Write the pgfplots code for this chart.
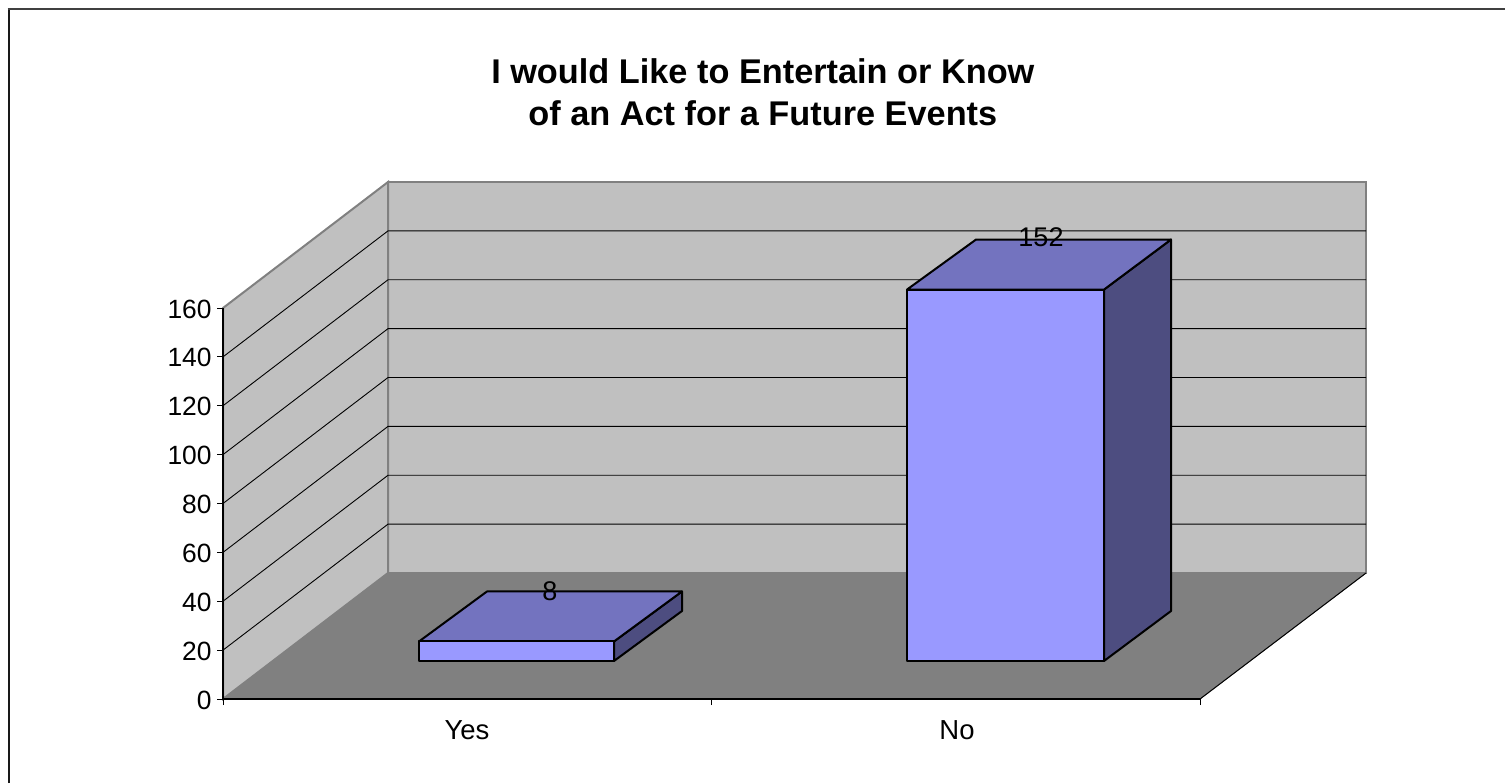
\documentclass[border=0pt]{standalone}
\usepackage{pgfplots}
\pgfplotsset{compat=1.18}
\usepackage{fontspec}
\setmainfont{Liberation Sans}
\definecolor{wall}{HTML}{C0C0C0}
\definecolor{floorc}{HTML}{808080}
\definecolor{barfront}{HTML}{9999FF}
\definecolor{bartop}{HTML}{7373BF}
\definecolor{barside}{HTML}{4D4D80}
\begin{document}
\begin{tikzpicture}
\path[use as bounding box] (0,0) rectangle (752.5pt,391.5pt);
\draw[line width=1pt,black!90] (4.25pt,0pt) -- (4.25pt,387.2pt);
\draw[line width=1.2pt,black!75] (3.75pt,387pt) -- (752.5pt,387pt);
\begin{axis}[
  at={(111.5pt,42pt)},anchor=south west,
  scale only axis,width=488.5pt,height=195.5pt,
  xmin=223,xmax=1200,ymin=0,ymax=160,
  clip=false,axis on top,
  axis lines*=left,axis line style={-,black,line width=0.6pt},
  tick align=outside,
  ytick={0,20,...,160},
  xtick={223,711,1200},xticklabels={},
  extra x ticks={467,957},
  extra x tick labels={Yes,No},
  extra x tick style={major tick length=0pt},
  major tick length=3pt,
  tick style={black,line width=0.5pt},
  xticklabel style={font=\fontsize{13.75}{15}\selectfont,yshift=-7.5pt},
  /pgf/number format/assume math mode=true,
  yticklabel style={font=\fontsize{13.2}{15}\selectfont,inner sep=0pt,xshift=-2.5pt,yshift=-0.5pt},
  title={I would Like to Entertain or Know\\of an Act for a Future Events},
  title style={at={(0.5525,1.521)},anchor=center,align=center,
    font=\fontsize{17.15}{21}\selectfont\bfseries},
  nodes near coords style={font=\fontsize{13.5}{15}\selectfont,anchor=center,inner sep=0pt},
]
% walls and floor
\addplot[fill=wall,draw=floorc,line width=1pt,mark=none] coordinates {(388,51.55)(1366,51.55)(1366,211.55)(388,211.55)} -- cycle;
\addplot[fill=wall,draw=floorc,line width=1pt,mark=none] coordinates {(223,0)(388,51.55)(388,211.55)(223,160)} -- cycle;
\addplot[fill=floorc,draw=floorc,line width=0.4pt,mark=none] coordinates {(223,0)(1200,0)(1366,51.55)(388,51.55)} -- cycle;
\addplot[black,line width=0.5pt,mark=none] coordinates {(1200,0)(1366,51.55)};
% gridlines on the side and back wall
\addplot[black,line width=0.45pt,mark=none] coordinates {(223,20)(388,71.55)(1366,71.55)};
\addplot[black,line width=0.45pt,mark=none] coordinates {(223,40)(388,91.55)(1366,91.55)};
\addplot[black,line width=0.45pt,mark=none] coordinates {(223,60)(388,111.55)(1366,111.55)};
\addplot[black,line width=0.45pt,mark=none] coordinates {(223,80)(388,131.55)(1366,131.55)};
\addplot[black,line width=0.45pt,mark=none] coordinates {(223,100)(388,151.55)(1366,151.55)};
\addplot[black,line width=0.45pt,mark=none] coordinates {(223,120)(388,171.55)(1366,171.55)};
\addplot[black,line width=0.45pt,mark=none] coordinates {(223,140)(388,191.55)(1366,191.55)};
% bar Yes = 8
\addplot[fill=barside,draw=black,line width=1pt,line join=round,mark=none] coordinates {(614,15.55)(682,36.01)(682,44.01)(614,23.55)} -- cycle;
\addplot[fill=bartop,draw=black,line width=1pt,line join=round,mark=none] coordinates {(419,23.55)(614,23.55)(682,44.01)(487,44.01)} -- cycle;
\addplot[fill=barfront,draw=black,line width=1pt,line join=round,mark=none] coordinates {(419,15.55)(614,15.55)(614,23.55)(419,23.55)} -- cycle;
% bar No = 152
\addplot[fill=barside,draw=black,line width=1pt,line join=round,mark=none] coordinates {(1104,15.55)(1171,36.01)(1171,188.01)(1104,167.55)} -- cycle;
\addplot[fill=bartop,draw=black,line width=1pt,line join=round,mark=none] coordinates {(907,167.55)(1104,167.55)(1171,188.01)(976,188.01)} -- cycle;
\addplot[fill=barfront,draw=black,line width=1pt,line join=round,mark=none] coordinates {(907,15.55)(1104,15.55)(1104,167.55)(907,167.55)} -- cycle;
% value labels
\addplot[draw=none,mark=none,point meta=explicit symbolic,nodes near coords] coordinates {(550,44.2) [8] (1041,188.8) [152]};
\end{axis}
\end{tikzpicture}
\end{document}
